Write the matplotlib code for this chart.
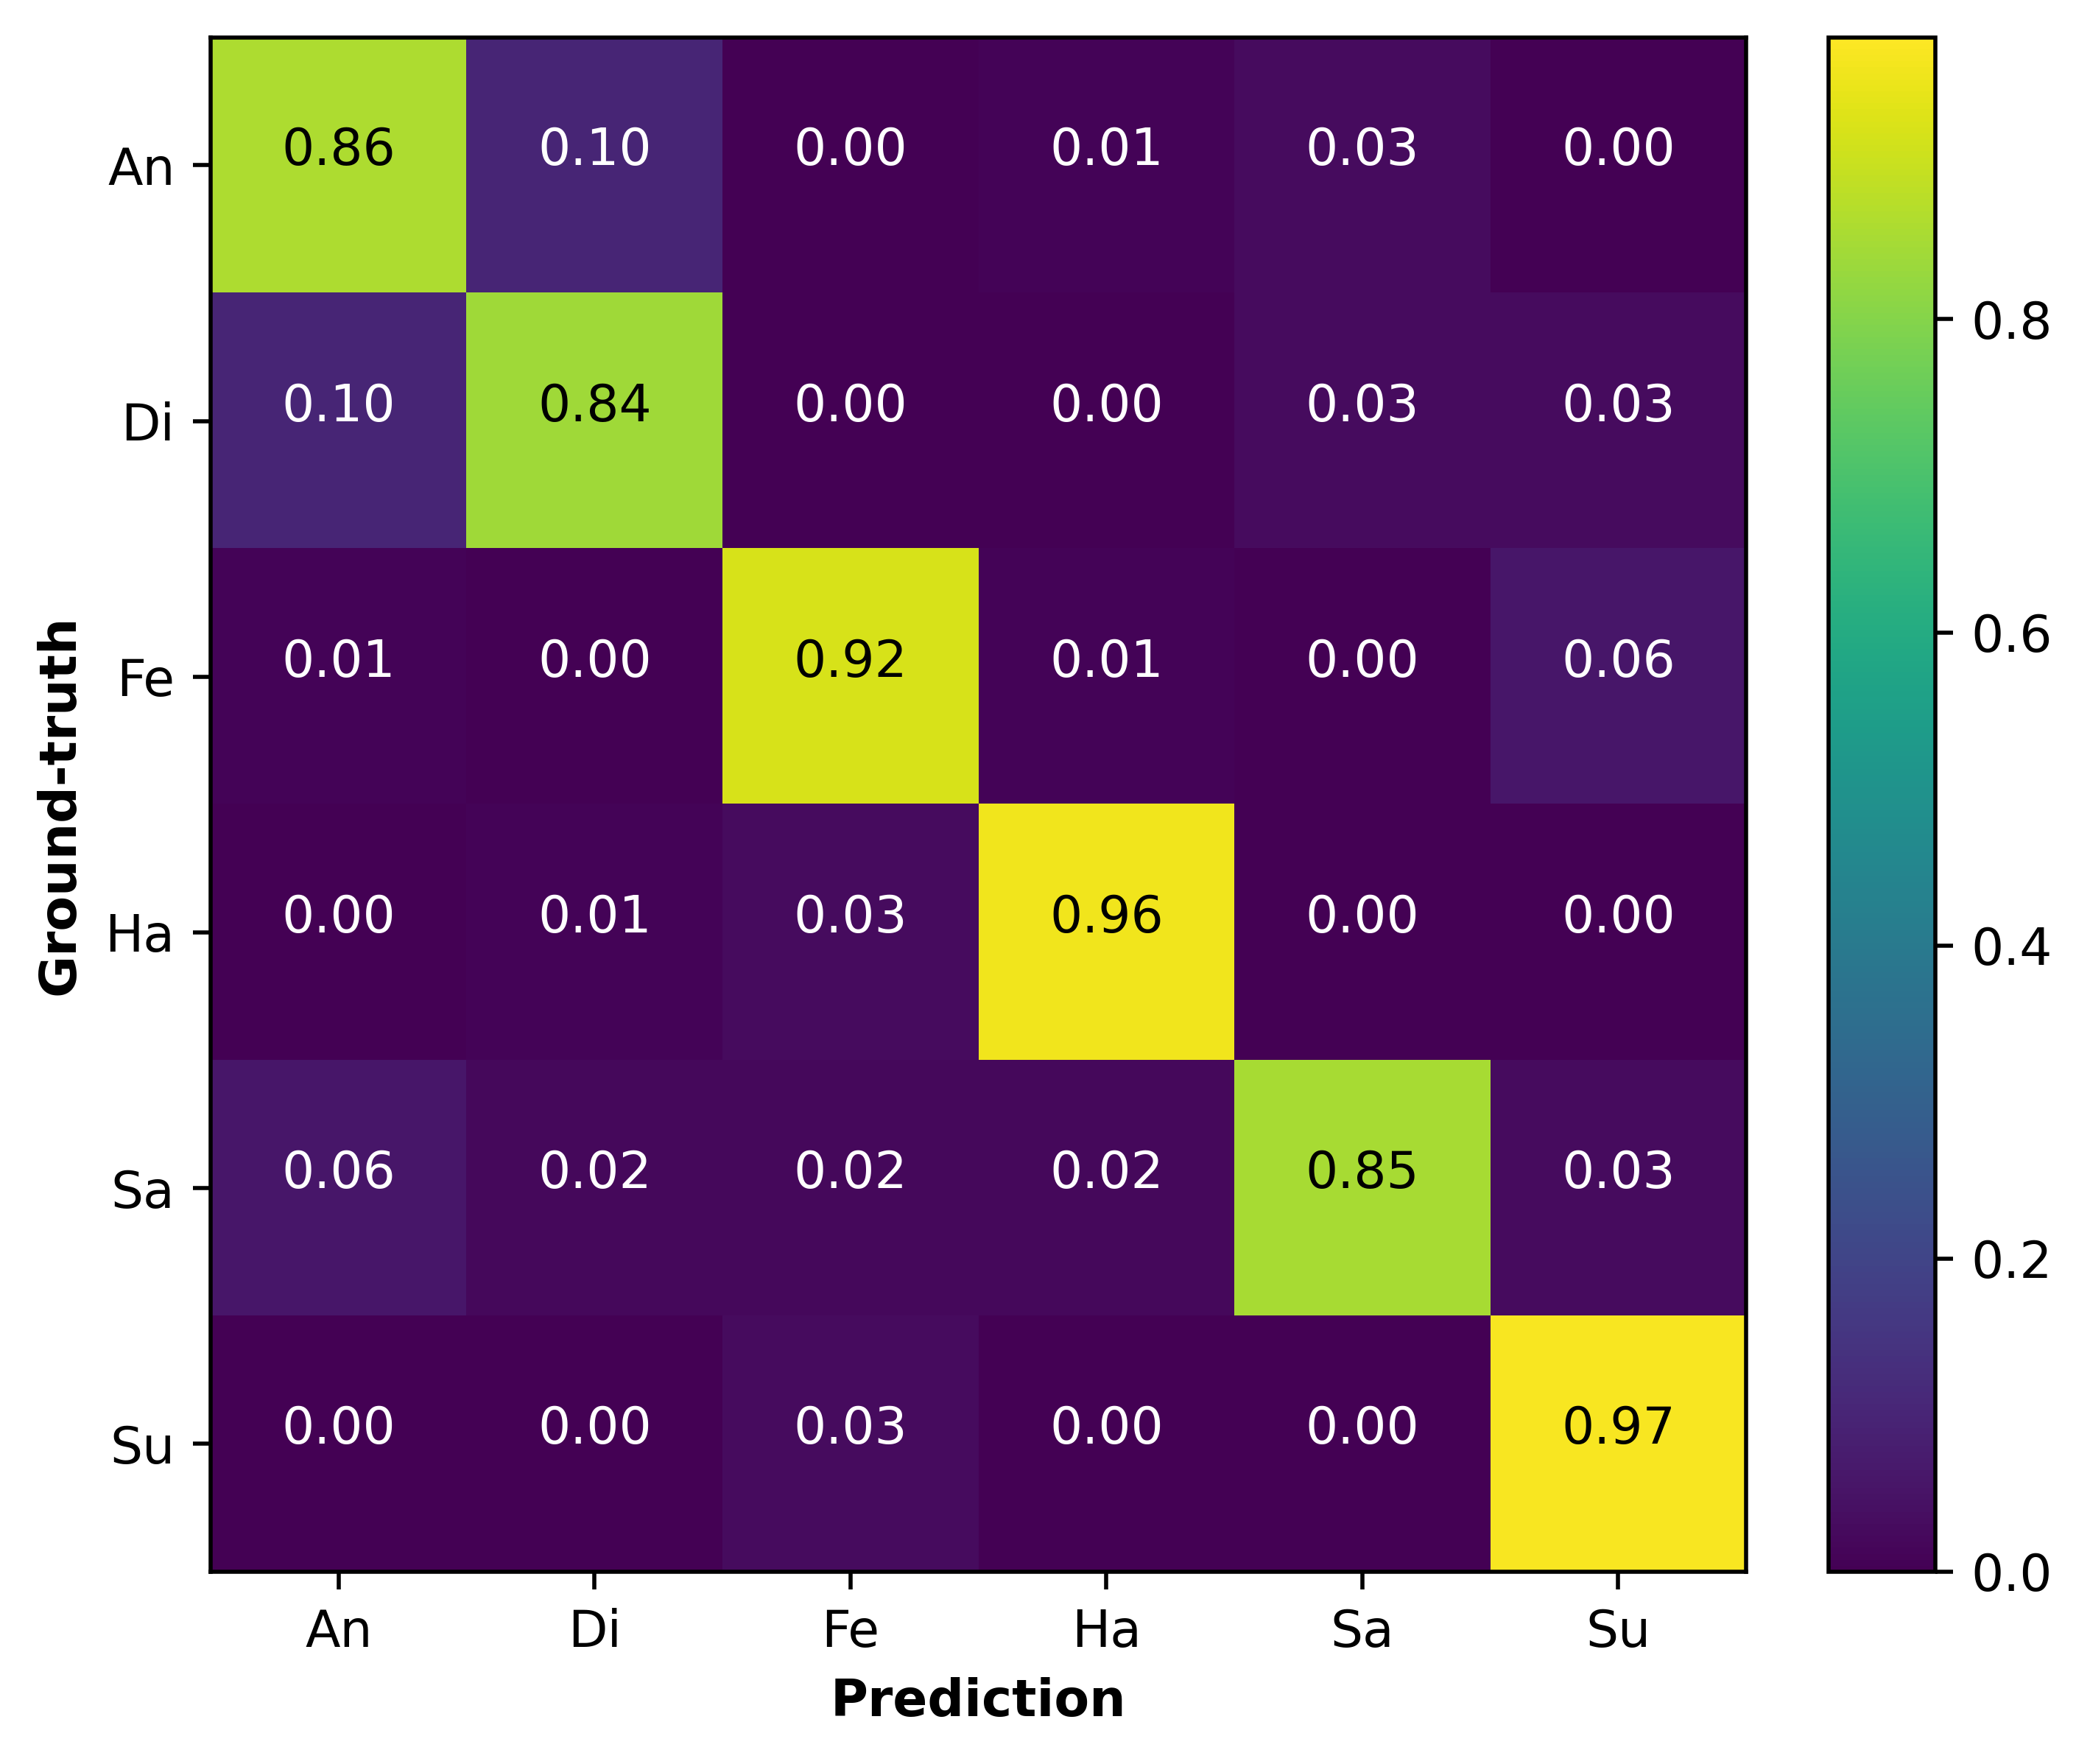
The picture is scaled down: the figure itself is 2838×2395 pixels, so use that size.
import numpy as np
import matplotlib
matplotlib.use('Agg')
import matplotlib.pyplot as plt

labels = ['An', 'Di', 'Fe', 'Ha', 'Sa', 'Su']
an = [0.86, 0.10, 0.00, 0.01, 0.03, 0.00]
di = [0.10, 0.84, 0.00, 0.00, 0.03, 0.03]
fe = [0.01, 0.00, 0.92, 0.01, 0.00, 0.06]
ha = [0.00, 0.01, 0.03, 0.96, 0.00, 0.00]
sa = [0.06, 0.02, 0.02, 0.02, 0.85, 0.03]
su = [0.00, 0.00, 0.03, 0.00, 0.00, 0.97]

cm = np.array([an, di, fe, ha, sa, su])

fig = plt.figure(figsize=(2838 / 500, 2395 / 500), dpi=500)
ax = fig.add_axes([0.1008, 0.109, 0.7347, 0.8698])
im = ax.imshow(cm, cmap='viridis', aspect='auto', vmin=0, vmax=0.98)

for i in range(cm.shape[0]):
    for j in range(cm.shape[1]):
        c = 'black' if cm[i, j] > 0.5 else 'white'
        ax.text(j, i, '%.2f' % cm[i, j], ha='center', color=c)

ax.set_xticks(range(len(labels)))
ax.set_yticks(range(len(labels)))
ax.set_xticklabels(labels)
ax.set_yticklabels(labels)
ax.set_xlabel('Prediction', fontweight='bold')
ax.set_ylabel('Ground-truth', fontweight='bold')

cax = fig.add_axes([0.875, 0.109, 0.051, 0.8698])
cb = fig.colorbar(im, cax=cax)

fig.savefig('out.png', dpi=500)
